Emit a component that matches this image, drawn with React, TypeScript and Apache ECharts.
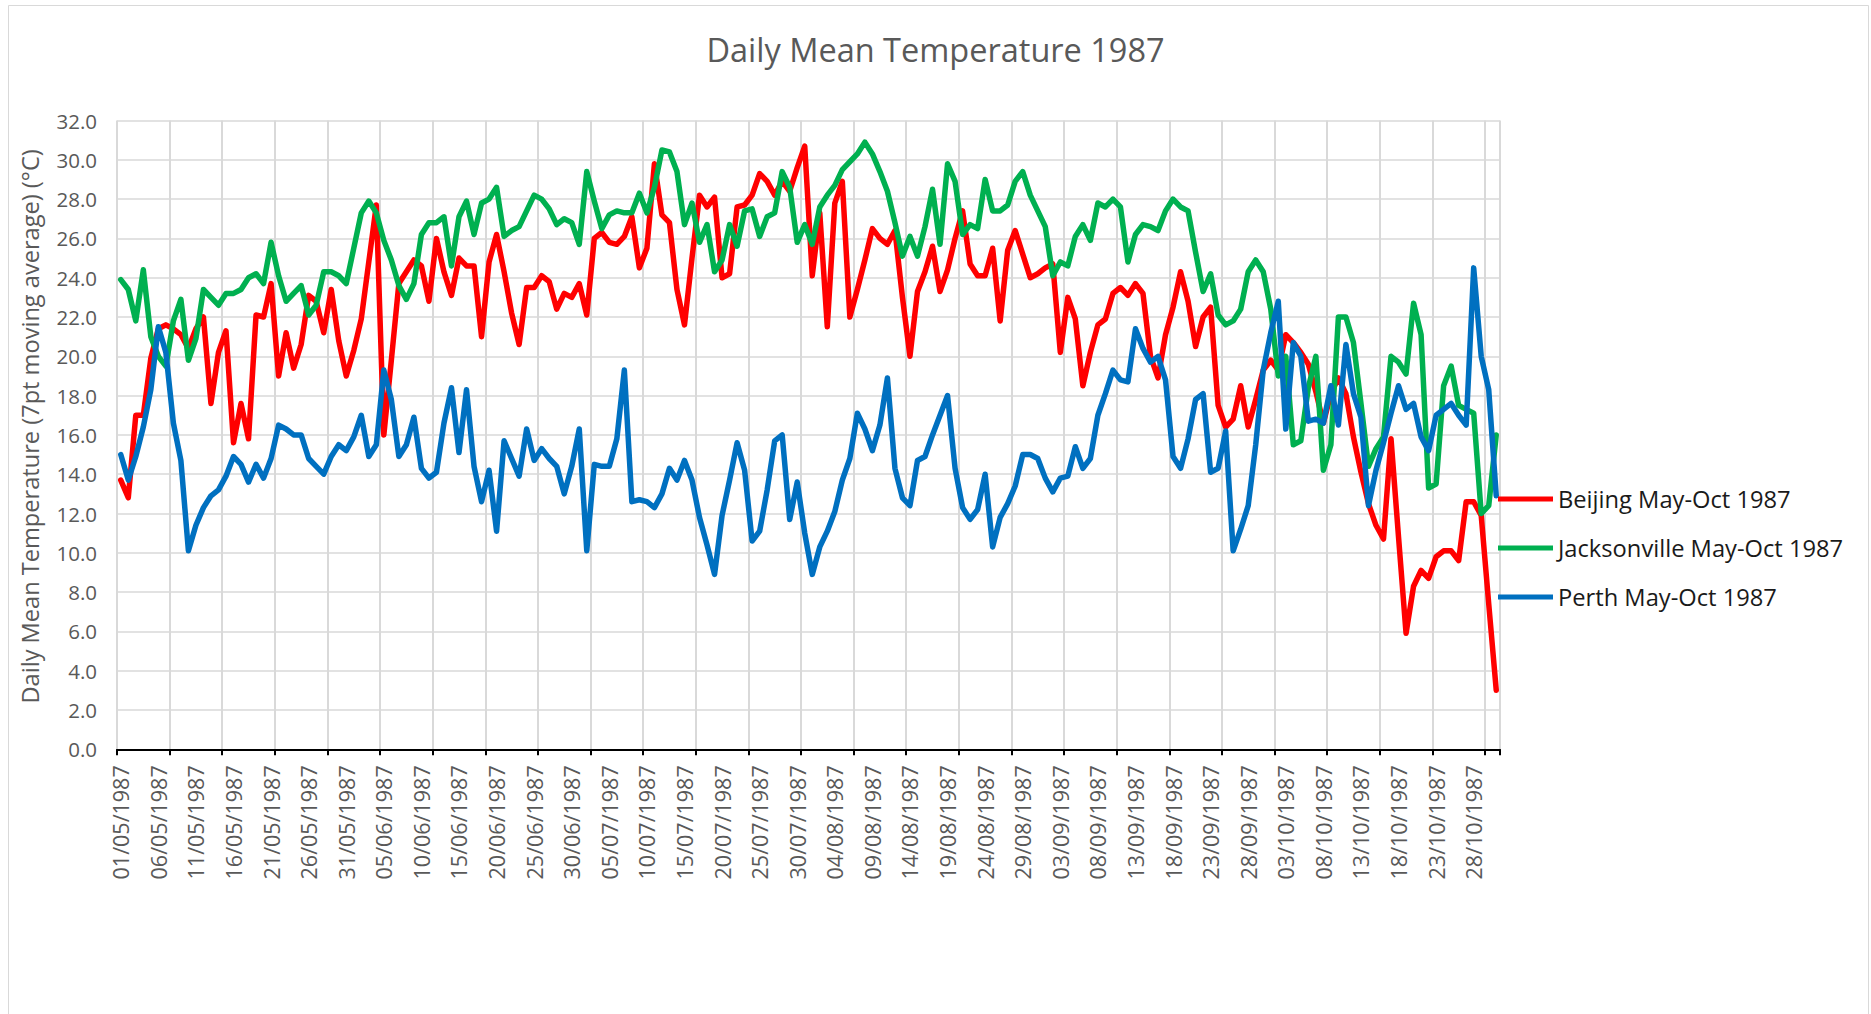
import React, { useEffect, useRef } from "react";
import * as echarts from "echarts";

const START = { year: 1987, month: 4, day: 1 };
const DAY_COUNT = 184;

const beijing = [
  13.7, 12.8, 17.0, 17.0, 19.9, 21.4, 21.6, 21.4, 21.1, 20.4,
  21.4, 22.0, 17.6, 20.2, 21.3, 15.6, 17.6, 15.8, 22.1, 22.0,
  23.7, 19.0, 21.2, 19.4, 20.6, 23.1, 22.8, 21.2, 23.4, 20.8,
  19.0, 20.3, 21.9, 24.8, 27.7, 16.0, 19.8, 23.7, 24.3, 24.9,
  24.6, 22.8, 26.0, 24.3, 23.1, 25.0, 24.6, 24.6, 21.0, 24.8,
  26.2, 24.3, 22.2, 20.6, 23.5, 23.5, 24.1, 23.8, 22.4, 23.2,
  23.0, 23.7, 22.1, 26.0, 26.3, 25.8, 25.7, 26.1, 27.1, 24.5,
  25.5, 29.8, 27.2, 26.8, 23.4, 21.6, 25.0, 28.2, 27.6, 28.1,
  24.0, 24.2, 27.6, 27.7, 28.2, 29.3, 28.9, 28.2, 28.9, 28.4,
  29.6, 30.7, 24.1, 27.3, 21.5, 27.8, 28.9, 22.0, 23.4, 24.9,
  26.5, 26.0, 25.7, 26.4, 23.0, 20.0, 23.3, 24.3, 25.6, 23.3,
  24.4, 26.0, 27.4, 24.7, 24.1, 24.1, 25.5, 21.8, 25.4, 26.4,
  25.2, 24.0, 24.2, 24.5, 24.7, 20.2, 23.0, 21.9, 18.5, 20.2,
  21.6, 21.9, 23.2, 23.5, 23.1, 23.7, 23.2, 20.0, 18.9, 21.1,
  22.5, 24.3, 22.8, 20.5, 22.0, 22.5, 17.5, 16.4, 16.8, 18.5,
  16.4, 17.8, 19.3, 19.8, 19.3, 21.1, 20.7, 20.2, 19.6, 18.2,
  16.6, 18.1, 18.9, 18.1, 15.9, 14.1, 12.5, 11.4, 10.7, 15.8,
  10.8, 5.9, 8.3, 9.1, 8.7, 9.8, 10.1, 10.1, 9.6, 12.6,
  12.6, 11.9, 7.4, 3.0,
];

const jacksonville = [
  23.9, 23.4, 21.8, 24.4, 21.0, 20.0, 19.5, 21.8, 22.9, 19.8,
  20.9, 23.4, 23.0, 22.6, 23.2, 23.2, 23.4, 24.0, 24.2, 23.7,
  25.8, 24.1, 22.8, 23.2, 23.6, 22.1, 22.6, 24.3, 24.3, 24.1,
  23.7, 25.5, 27.3, 27.9, 27.3, 25.9, 24.9, 23.6, 22.9, 23.7,
  26.2, 26.8, 26.8, 27.1, 24.6, 27.1, 27.9, 26.2, 27.8, 28.0,
  28.6, 26.1, 26.4, 26.6, 27.4, 28.2, 28.0, 27.5, 26.7, 27.0,
  26.8, 25.7, 29.4, 27.9, 26.5, 27.2, 27.4, 27.3, 27.3, 28.3,
  27.3, 28.6, 30.5, 30.4, 29.4, 26.7, 27.8, 25.8, 26.7, 24.3,
  24.9, 26.7, 25.6, 27.4, 27.5, 26.1, 27.1, 27.3, 29.4, 28.6,
  25.8, 26.7, 25.7, 27.6, 28.2, 28.7, 29.5, 29.9, 30.3, 30.9,
  30.3, 29.4, 28.4, 26.8, 25.1, 26.1, 25.1, 26.6, 28.5, 25.7,
  29.8, 28.9, 26.2, 26.7, 26.5, 29.0, 27.4, 27.4, 27.7, 28.9,
  29.4, 28.2, 27.4, 26.6, 24.1, 24.8, 24.6, 26.1, 26.7, 25.9,
  27.8, 27.6, 28.0, 27.6, 24.8, 26.2, 26.7, 26.6, 26.4, 27.4,
  28.0, 27.6, 27.4, 25.3, 23.3, 24.2, 22.1, 21.6, 21.8, 22.4,
  24.3, 24.9, 24.3, 22.4, 19.0, 20.0, 15.5, 15.7, 18.4, 20.0,
  14.2, 15.5, 22.0, 22.0, 20.7, 17.6, 14.4, 15.3, 15.9, 20.0,
  19.7, 19.1, 22.7, 21.1, 13.3, 13.5, 18.5, 19.5, 17.5, 17.3,
  17.1, 12.0, 12.4, 16.0,
];

const perth = [
  15.0, 13.7, 14.9, 16.4, 18.3, 21.5, 20.2, 16.6, 14.7, 10.1,
  11.4, 12.3, 12.9, 13.2, 13.9, 14.9, 14.5, 13.6, 14.5, 13.8,
  14.8, 16.5, 16.3, 16.0, 16.0, 14.8, 14.4, 14.0, 14.9, 15.5,
  15.2, 15.9, 17.0, 14.9, 15.5, 19.3, 17.8, 14.9, 15.5, 16.9,
  14.3, 13.8, 14.1, 16.6, 18.4, 15.1, 18.3, 14.4, 12.6, 14.2,
  11.1, 15.7, 14.8, 13.9, 16.3, 14.7, 15.3, 14.8, 14.4, 13.0,
  14.4, 16.3, 10.1, 14.5, 14.4, 14.4, 15.8, 19.3, 12.6, 12.7,
  12.6, 12.3, 13.0, 14.3, 13.7, 14.7, 13.7, 11.8, 10.4, 8.9,
  11.9, 13.7, 15.6, 14.2, 10.6, 11.1, 13.2, 15.7, 16.0, 11.7,
  13.6, 11.0, 8.9, 10.3, 11.1, 12.1, 13.7, 14.8, 17.1, 16.3,
  15.2, 16.5, 18.9, 14.3, 12.8, 12.4, 14.7, 14.9, 16.0, 17.0,
  18.0, 14.3, 12.3, 11.7, 12.2, 14.0, 10.3, 11.8, 12.5, 13.4,
  15.0, 15.0, 14.8, 13.8, 13.1, 13.8, 13.9, 15.4, 14.3, 14.8,
  17.0, 18.1, 19.3, 18.8, 18.7, 21.4, 20.4, 19.7, 20.0, 18.8,
  14.9, 14.3, 15.8, 17.8, 18.1, 14.1, 14.3, 16.2, 10.1, 11.2,
  12.4, 15.5, 19.3, 21.2, 22.8, 16.3, 20.7, 20.0, 16.7, 16.8,
  16.6, 18.5, 16.5, 20.6, 18.1, 16.9, 12.4, 14.2, 15.6, 17.1,
  18.5, 17.3, 17.6, 15.9, 15.2, 17.0, 17.3, 17.6, 17.0, 16.5,
  24.5, 20.0, 18.3, 12.9,
];

const seriesNames = [
  "Beijing May-Oct 1987",
  "Jacksonville May-Oct 1987",
  "Perth May-Oct 1987",
];
const seriesColors = ["#FF0000", "#00B050", "#0070C0"];
const seriesValues = [beijing, jacksonville, perth];

const TITLE = "Daily Mean Temperature 1987";
const Y_NAME = "Daily Mean Temperature (7pt moving average) (°C)";

function pad2(n: number) {
  return n < 10 ? "0" + n : String(n);
}

const categories: string[] = [];
for (let i = 0; i < DAY_COUNT; i++) {
  const d = new Date(Date.UTC(START.year, START.month, START.day + i));
  categories.push(
    pad2(d.getUTCDate()) + "/" + pad2(d.getUTCMonth() + 1) + "/" + d.getUTCFullYear()
  );
}

const FONT = "'Open Sans', 'Noto Sans', sans-serif";

export default function App() {
  const ref = useRef<HTMLDivElement>(null);

  useEffect(() => {
    if (!ref.current) return;
    const chart = echarts.init(ref.current, undefined, { renderer: "svg" });
    chart.setOption({
      animation: false,
      backgroundColor: "#ffffff",
      textStyle: { fontFamily: FONT },
      title: {
        text: TITLE,
        left: "center",
        top: 28,
        textStyle: {
          fontFamily: FONT,
          fontSize: 32.5,
          fontWeight: "normal",
          color: "#595959",
        },
      },
      graphic: [
        {
          type: "rect",
          silent: true,
          shape: { x: 8.5, y: 5.5, width: 1860, height: 1100 },
          style: { fill: "none", stroke: "#d9d9d9", lineWidth: 1 },
          z: -10,
        },
      ],
      legend: {
        orient: "vertical",
        left: 1493,
        top: 482,
        itemGap: 25,
        itemWidth: 55,
        itemHeight: 5,
        icon: "rect",
        data: seriesNames,
        textStyle: { fontFamily: FONT, fontSize: 23.7, color: "#1a1a1a" },
      },
      grid: { left: 117, top: 120.5, right: 371, bottom: 264.7, containLabel: false },
      xAxis: {
        type: "category",
        data: categories,
        boundaryGap: true,
        axisLine: { show: true, lineStyle: { color: "#000000", width: 2 } },
        axisTick: {
          show: true,
          interval: 6,
          length: 6,
          inside: false,
          lineStyle: { color: "#000000", width: 2 },
        },
        splitLine: {
          show: true,
          interval: 6,
          lineStyle: { color: "#d9d9d9", width: 2 },
        },
        axisLabel: {
          interval: 4,
          rotate: 90,
          margin: 16,
          fontFamily: FONT,
          fontSize: 21.5,
          color: "#595959",
        },
      },
      yAxis: {
        type: "value",
        min: 0,
        max: 32,
        interval: 2,
        name: Y_NAME,
        nameLocation: "middle",
        nameGap: 75,
        nameTextStyle: {
          fontFamily: FONT,
          fontSize: 23.6,
          color: "#595959",
          padding: [0, 0, 0, 17],
        },
        axisLine: { show: false },
        axisTick: { show: false },
        splitLine: { show: true, lineStyle: { color: "#d9d9d9", width: 1.5 } },
        axisLabel: {
          margin: 20,
          fontFamily: FONT,
          fontSize: 20.5,
          color: "#595959",
          formatter: (v: number) => v.toFixed(1),
        },
      },
      series: seriesNames.map((name, i) => ({
        name,
        type: "line",
        data: seriesValues[i],
        showSymbol: false,
        symbol: "none",
        smooth: false,
        color: seriesColors[i],
        lineStyle: { color: seriesColors[i], width: 5.5, join: "round", cap: "round" },
        emphasis: { disabled: true },
      })),
    });
    return () => chart.dispose();
  }, []);

  return (
    <div
      ref={ref}
      style={{ position: "fixed", left: 0, top: 0, width: 1871, height: 1014, background: "#fff" }}
    />
  );
}
